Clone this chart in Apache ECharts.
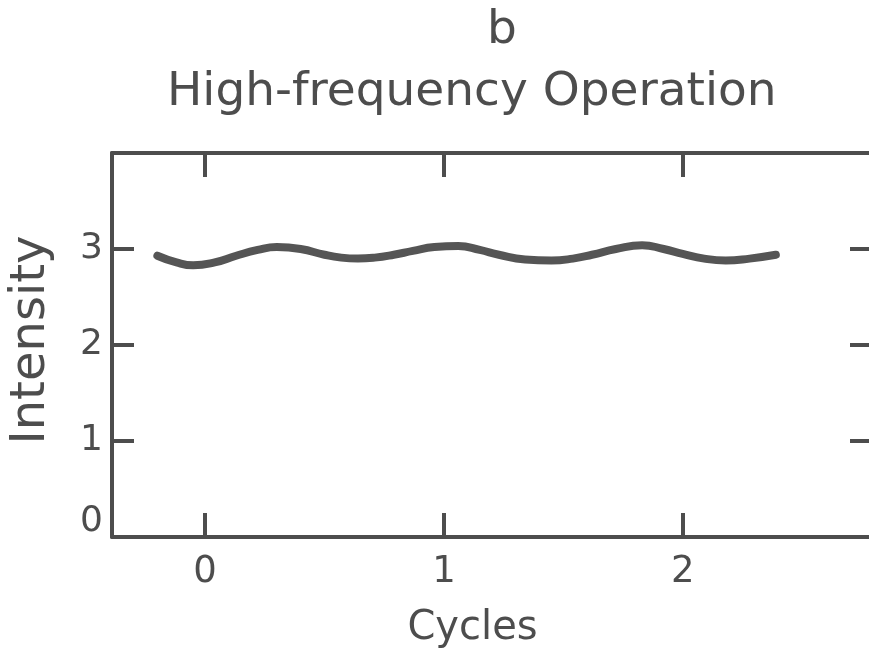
<!DOCTYPE html>
<html>
<head>
<meta charset="utf-8">
<script src="https://cdn.jsdelivr.net/npm/echarts@6/dist/echarts.min.js"></script>
<style>
html,body{margin:0;padding:0;background:#fff;}
#chart{width:869px;height:660px;}
</style>
</head>
<body>
<div id="chart"></div>
<script>
// Data
const cycleX = [-0.20, -0.12, -0.05, 0.04, 0.13, 0.22, 0.30, 0.40, 0.50, 0.57, 0.64, 0.71, 0.79, 0.87, 0.96, 1.06, 1.15, 1.23, 1.34, 1.45, 1.54, 1.62, 1.72, 1.83, 1.92, 2.00, 2.09, 2.18, 2.28, 2.39];
const intensity = [2.93, 2.86, 2.83, 2.86, 2.93, 2.99, 3.02, 3.00, 2.94, 2.91, 2.90, 2.91, 2.94, 2.98, 3.02, 3.03, 2.99, 2.94, 2.89, 2.88, 2.90, 2.94, 3.00, 3.04, 3.00, 2.95, 2.90, 2.88, 2.90, 2.94];
const xTicks = [0, 1, 2];
const yTicks = [1, 2, 3];
const yLabels = [0, 1, 2, 3];
const titleLetter = 'b';
const titleText = 'High-frequency Operation';
const xName = 'Cycles';
const yName = 'Intensity';

const ink = '#4d4d4d';
const font = 'DejaVu Sans';
const chart = echarts.init(document.getElementById('chart'));
const lineSeries = cycleX.map((x, i) => [x, intensity[i]]);

chart.setOption({
  animation: false,
  backgroundColor: '#fff',
  title: [
    { text: titleLetter, left: 482, top: 2, textStyle: { fontFamily: font, fontSize: 47, fontWeight: 'normal', color: ink } },
    { text: titleText, left: 162, top: 64, textStyle: { fontFamily: font, fontSize: 47, fontWeight: 'normal', color: ink } }
  ],
  grid: { left: 109, top: 153, width: 760, height: 384, containLabel: false },
  xAxis: [
    {
      type: 'value', position: 'bottom', min: -0.39, max: 2.78,
      axisLine: { show: true, onZero: false, lineStyle: { color: ink, width: 4 } },
      axisTick: { show: true, inside: true, length: 24, customValues: xTicks, lineStyle: { color: ink, width: 4 } },
      axisLabel: { show: true, customValues: xTicks, margin: 17, fontFamily: font, fontSize: 37, color: ink },
      splitLine: { show: false },
      name: xName, nameLocation: 'middle', nameGap: 72,
      nameTextStyle: { fontFamily: font, fontSize: 40, color: ink, padding: [0, 36, 0, 0] }
    },
    {
      type: 'value', position: 'top', min: -0.39, max: 2.78,
      axisLine: { show: true, onZero: false, lineStyle: { color: ink, width: 4 } },
      axisTick: { show: true, inside: true, length: 24, customValues: xTicks, lineStyle: { color: ink, width: 4 } },
      axisLabel: { show: false },
      splitLine: { show: false }
    }
  ],
  yAxis: [
    {
      type: 'value', position: 'left', min: 0, max: 4,
      axisLine: { show: true, onZero: false, lineStyle: { color: ink, width: 4 } },
      axisTick: { show: true, inside: true, length: 22, customValues: yTicks, lineStyle: { color: ink, width: 4 } },
      axisLabel: {
        show: true, customValues: yLabels, margin: 9, fontFamily: font, fontSize: 36, color: ink,
        formatter: v => (v === 0 ? '{z|0}' : String(v)),
        rich: { z: { fontFamily: font, fontSize: 36, color: ink, padding: [0, 0, 30, 0] } }
      },
      splitLine: { show: false },
      name: yName, nameLocation: 'middle', nameRotate: 90, nameGap: 56,
      nameTextStyle: { fontFamily: font, fontSize: 48, color: ink, padding: [0, 0, 0, 10] }
    },
    {
      type: 'value', position: 'right', min: 0, max: 4,
      axisLine: { show: false, onZero: false },
      axisTick: { show: true, inside: true, length: 19, customValues: yTicks, lineStyle: { color: ink, width: 4 } },
      axisLabel: { show: false },
      splitLine: { show: false }
    }
  ],
  series: [
    {
      type: 'line', xAxisIndex: 0, yAxisIndex: 0,
      data: lineSeries, smooth: 0.5, showSymbol: false, symbol: 'none',
      lineStyle: { color: '#555', width: 8, cap: 'round', join: 'round' }
    }
  ]
});
</script>
</body>
</html>
